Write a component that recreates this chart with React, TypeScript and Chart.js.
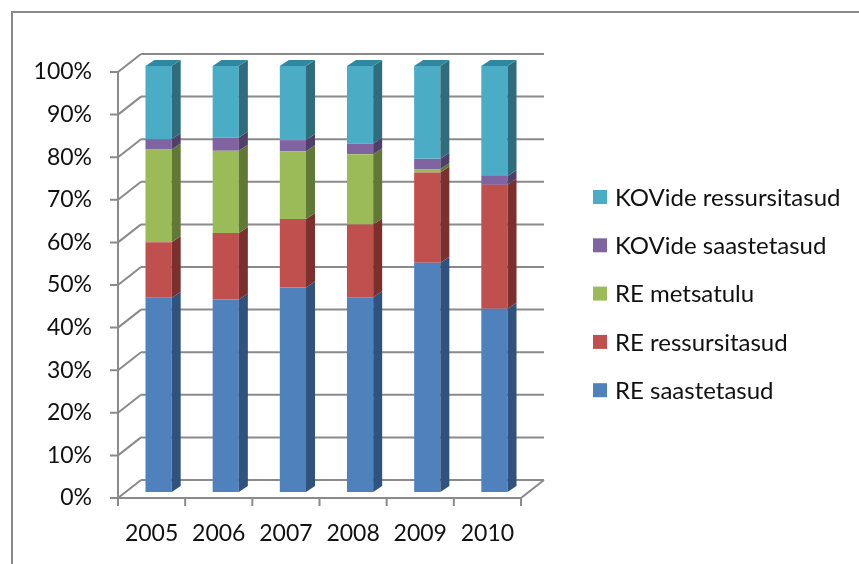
import React, { useEffect, useRef } from "react";
import { Chart, registerables } from "chart.js";

Chart.register(...registerables);

const years = ["2005", "2006", "2007", "2008", "2009", "2010"];
const reSaastetasud = [45.6, 45.2, 48.0, 45.7, 53.8, 43.0];
const reRessursitasud = [13.0, 15.6, 16.1, 17.1, 21.2, 29.1];
const reMetsatulu = [21.8, 19.3, 15.9, 16.5, 0.8, 0];
const kovSaastetasud = [2.4, 3.1, 2.6, 2.5, 2.4, 2.1];
const kovRessursitasud = [17.2, 16.8, 17.4, 18.2, 21.8, 25.8];
const seriesNames = [
  "RE saastetasud",
  "RE ressursitasud",
  "RE metsatulu",
  "KOVide saastetasud",
  "KOVide ressursitasud",
];
const frontColors = ["#4F81BD", "#C0504D", "#9BBB59", "#8064A2", "#4BACC6"];
const sideColors = ["#30527E", "#7B302E", "#627836", "#513F6B", "#2F6D7E"];
const topColors = ["#3F6798", "#9A3F3D", "#7C9647", "#664F82", "#2F889F"];
const yTicks = [0, 10, 20, 30, 40, 50, 60, 70, 80, 90, 100];

const FONT = "Lato, 'Open Sans', sans-serif";
const GRID = "#8A8A8A";
const TEXT = "#111111";

const gridPlugin = {
  id: "grid3d",
  beforeDatasetsDraw(chart: any) {
    const { ctx, chartArea } = chart;
    const ys = chart.scales.y;
    const L = chartArea.left;
    const R = chartArea.right;
    const fx = -7, fy = 6, bx = 16, by = -12;
    ctx.save();
    ctx.strokeStyle = GRID;
    ctx.lineWidth = 2;
    ctx.beginPath();
    yTicks.forEach((v) => {
      const y = ys.getPixelForValue(v);
      ctx.moveTo(L + bx, y + by);
      ctx.lineTo(R + bx, y + by);
      ctx.moveTo(L + fx, y + fy);
      ctx.lineTo(L + bx, y + by);
      ctx.moveTo(L + fx - 8, y + fy);
      ctx.lineTo(L + fx, y + fy);
    });
    const y0 = ys.getPixelForValue(0);
    const y100 = ys.getPixelForValue(100);
    ctx.moveTo(L + fx, y0 + fy);
    ctx.lineTo(L + fx, y100 + fy);
    ctx.moveTo(L + fx, y0 + fy);
    ctx.lineTo(R + fx, y0 + fy);
    ctx.lineTo(R + bx, y0 + by);
    const n = years.length;
    for (let i = 0; i <= n; i++) {
      const x = L + ((R - L) * i) / n + fx;
      ctx.moveTo(x, y0 + fy);
      ctx.lineTo(x, y0 + fy + 8);
    }
    ctx.stroke();
    ctx.restore();
  },
  afterDatasetsDraw(chart: any) {
    const { ctx } = chart;
    const dx = 9, dy = 6;
    const nDs = chart.data.datasets.length;
    ctx.save();
    for (let d = 0; d < nDs; d++) {
      const meta = chart.getDatasetMeta(d);
      meta.data.forEach((el: any, i: number) => {
        const top = Math.min(el.y, el.base);
        const bottom = Math.max(el.y, el.base);
        if (bottom - top < 0.3) return;
        const left = el.x - el.width / 2;
        const right = el.x + el.width / 2;
        ctx.fillStyle = sideColors[d];
        ctx.beginPath();
        ctx.moveTo(right, top);
        ctx.lineTo(right + dx, top - dy);
        ctx.lineTo(right + dx, bottom - dy);
        ctx.lineTo(right, bottom);
        ctx.closePath();
        ctx.fill();
        let isTop = true;
        for (let k = d + 1; k < nDs; k++) {
          if (chart.data.datasets[k].data[i] > 0) isTop = false;
        }
        if (isTop) {
          ctx.fillStyle = topColors[d];
          ctx.beginPath();
          ctx.moveTo(left, top);
          ctx.lineTo(left + dx, top - dy);
          ctx.lineTo(right + dx, top - dy);
          ctx.lineTo(right, top);
          ctx.closePath();
          ctx.fill();
        }
      });
    }
    ctx.restore();
  },
};

const legendPlugin = {
  id: "sideLegend",
  afterDraw(chart: any) {
    const { ctx } = chart;
    const ds = chart.data.datasets;
    const boxX = 593, textX = 615, startY = 197, step = 48.3;
    ctx.save();
    ctx.font = `24px ${FONT}`;
    ctx.textBaseline = "middle";
    ctx.textAlign = "left";
    for (let j = 0; j < ds.length; j++) {
      const d = ds.length - 1 - j;
      const cy = startY + j * step;
      ctx.fillStyle = frontColors[d];
      ctx.fillRect(boxX, cy - 7, 14, 14);
      ctx.fillStyle = TEXT;
      ctx.fillText(ds[d].label, textX, cy + 1);
    }
    ctx.restore();
  },
};

export default function App() {
  const ref = useRef<HTMLCanvasElement>(null);
  useEffect(() => {
    if (!ref.current) return;
    const series = [reSaastetasud, reRessursitasud, reMetsatulu, kovSaastetasud, kovRessursitasud];
    const chart = new Chart(ref.current, {
      type: "bar",
      data: {
        labels: years,
        datasets: series.map((s, i) => ({
          label: seriesNames[i],
          data: s,
          backgroundColor: frontColors[i],
          borderWidth: 0,
          categoryPercentage: 1,
          barPercentage: 0.39,
        })),
      },
      options: {
        animation: false,
        responsive: false,
        devicePixelRatio: 1,
        layout: { padding: { left: 0, top: 66, right: 331, bottom: 0 } },
        plugins: { legend: { display: false }, title: { display: false }, tooltip: { enabled: false } },
        scales: {
          x: {
            stacked: true,
            grid: { display: false, drawTicks: false },
            border: { display: false },
            ticks: {
              font: { family: FONT, size: 23 },
              color: TEXT,
              labelOffset: -7,
              padding: 28,
              maxRotation: 0,
            },
            afterFit: (s: any) => {
              s.height = 72;
            },
          },
          y: {
            stacked: true,
            min: 0,
            max: 100,
            grid: { display: false, drawTicks: false },
            border: { display: false },
            ticks: {
              stepSize: 10,
              font: { family: FONT, size: 23 },
              color: TEXT,
              padding: 33,
              labelOffset: 6,
              callback: (v: any) => v + "%",
            },
            afterFit: (s: any) => {
              s.width = 125;
            },
          },
        },
      },
      plugins: [gridPlugin, legendPlugin],
    });
    return () => chart.destroy();
  }, []);
  return (
    <div style={{ position: "absolute", left: 0, top: 0, width: 859, height: 564, background: "#fff", overflow: "hidden" }}>
      <div
        style={{
          position: "absolute",
          left: 11,
          top: 11,
          width: 900,
          height: 600,
          borderTop: "2px solid #8A8A8A",
          borderLeft: "2px solid #8A8A8A",
        }}
      />
      <canvas ref={ref} width={859} height={564} style={{ position: "absolute", left: 0, top: 0 }} />
    </div>
  );
}
